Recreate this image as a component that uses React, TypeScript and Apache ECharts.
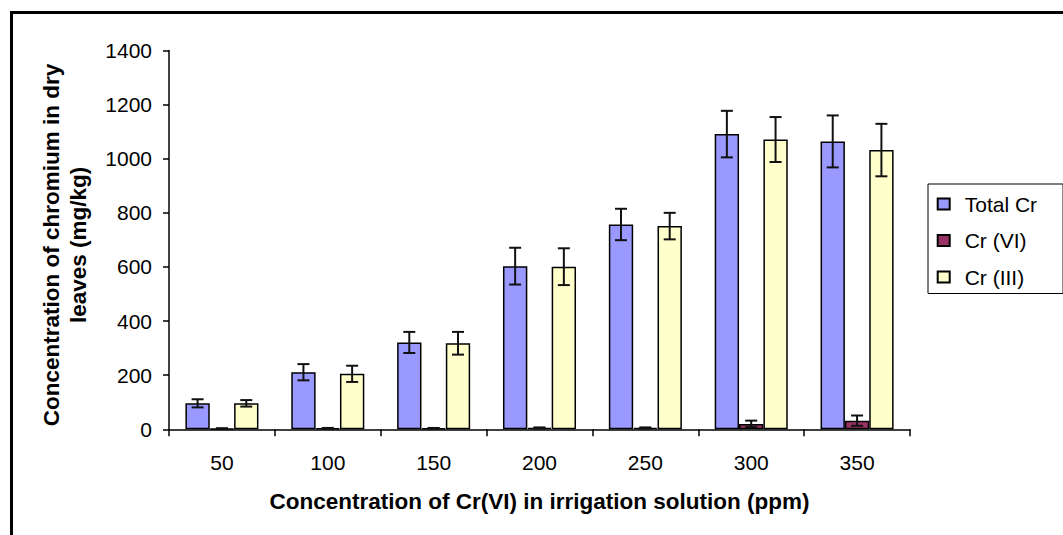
import React, { useEffect, useRef } from "react";
import * as echarts from "echarts";

const categories = ["50", "100", "150", "200", "250", "300", "350"];
const seriesNames = ["Total Cr", "Cr (VI)", "Cr (III)"];
const totalCr = [96, 211, 321, 603, 757, 1091, 1064];
const totalCrErr = [15, 30, 39, 68, 58, 86, 96];
const cr6 = [3, 4, 4, 5, 5, 20, 32];
const cr6Err = [1, 1, 1, 2, 2, 12, 19];
const cr3 = [96, 205, 318, 601, 751, 1071, 1032];
const cr3Err = [12, 30, 42, 68, 49, 83, 97];
const colors = ["#9999FF", "#993366", "#FFFFCC"];
const yTicks = { min: 0, max: 1400, interval: 200 };

const FONT = "'Liberation Sans', Arial, Helvetica, sans-serif";
const CAT_GAP = 0.31;

export default function App() {
  const ref = useRef<HTMLDivElement>(null);
  useEffect(() => {
    if (!ref.current) return;
    const chart = echarts.init(ref.current, null, { renderer: "svg" });
    const values = [totalCr, cr6, cr3];
    const errs = [totalCrErr, cr6Err, cr3Err];
    const errData: number[][] = [];
    values.forEach((vals, si) => {
      vals.forEach((v, ci) => {
        errData.push([ci, v - errs[si][ci], v + errs[si][ci], si]);
      });
    });
    const option: any = {
      animation: false,
      backgroundColor: "#fff",
      textStyle: { fontFamily: FONT, color: "#000" },
      grid: { left: 169, right: 153, top: 50.5, bottom: 105.7 },
      legend: {
        data: seriesNames,
        orient: "vertical",
        left: 928,
        top: 184,
        padding: [9.5, 26, 6, 8.7],
        itemGap: 15.5,
        itemWidth: 12,
        itemHeight: 11,
        icon: "rect",
        borderColor: "#000",
        borderWidth: 1,
        textStyle: { fontSize: 21, fontFamily: FONT, color: "#000", lineHeight: 21, padding: [0, 0, 0, 10] },
      },
      graphic: [
        {
          type: "rect",
          shape: { x: 11.5, y: 12.5, width: 1200, height: 700 },
          style: { fill: "none", stroke: "#000", lineWidth: 3 },
          silent: true,
          z: 100,
        },
      ],
      xAxis: {
        type: "category",
        data: categories,
        name: "Concentration of Cr(VI) in irrigation solution (ppm)",
        nameLocation: "middle",
        nameGap: 61,
        nameTextStyle: { fontSize: 22.5, fontWeight: "bold", fontFamily: FONT, color: "#000" },
        axisLine: { lineStyle: { color: "#000", width: 1.5 } },
        axisTick: { show: true, length: 7, lineStyle: { color: "#000", width: 1.5 } },
        axisLabel: { fontSize: 21, color: "#000", fontFamily: FONT, margin: 23 },
        splitLine: { show: false },
      },
      yAxis: {
        type: "value",
        min: yTicks.min,
        max: yTicks.max,
        interval: yTicks.interval,
        name: "Concentration of chromium in dry\nleaves (mg/kg)",
        nameLocation: "middle",
        nameRotate: 90,
        nameGap: 77,
        nameTextStyle: {
          fontSize: 22.5,
          fontWeight: "bold",
          fontFamily: FONT,
          color: "#000",
          lineHeight: 27,
          padding: [0, 10, 0, 0],
        },
        axisLine: { show: true, lineStyle: { color: "#000", width: 1.5 } },
        axisTick: { show: true, length: 6, lineStyle: { color: "#000", width: 1.5 } },
        axisLabel: {
          fontSize: 21,
          color: "#000",
          fontFamily: FONT,
          margin: 17,
          formatter: (v: number) => String(v),
        },
        splitLine: { show: false },
      },
      series: [
        ...seriesNames.map((name, i) => ({
          name,
          type: "bar",
          data: values[i],
          barGap: "0%",
          barCategoryGap: CAT_GAP * 100 + "%",
          itemStyle: { color: colors[i], borderColor: "#000", borderWidth: 1.5 },
          z: 2,
        })),
        {
          name: "error",
          type: "custom",
          data: errData,
          encode: { x: 0, y: [1, 2] },
          z: 10,
          renderItem: (params: any, api: any) => {
            const ci = api.value(0);
            const lo = api.value(1);
            const hi = api.value(2);
            const si = api.value(3);
            const band = api.size([1, 0])[0];
            const barW = (band * (1 - CAT_GAP)) / 3;
            const pLo = api.coord([ci, lo]);
            const pHi = api.coord([ci, hi]);
            const x = pLo[0] + (si - 1) * barW;
            const half = 6;
            const style = { stroke: "#111", lineWidth: 2 };
            return {
              type: "group",
              children: [
                { type: "line", shape: { x1: x, y1: pLo[1], x2: x, y2: pHi[1] }, style },
                { type: "line", shape: { x1: x - half, y1: pLo[1], x2: x + half, y2: pLo[1] }, style },
                { type: "line", shape: { x1: x - half, y1: pHi[1], x2: x + half, y2: pHi[1] }, style },
              ],
            };
          },
        },
      ],
    };
    chart.setOption(option);
    return () => chart.dispose();
  }, []);
  return (
    <div
      ref={ref}
      style={{ position: "absolute", left: 0, top: 0, width: 1063, height: 535, background: "#fff" }}
    />
  );
}
